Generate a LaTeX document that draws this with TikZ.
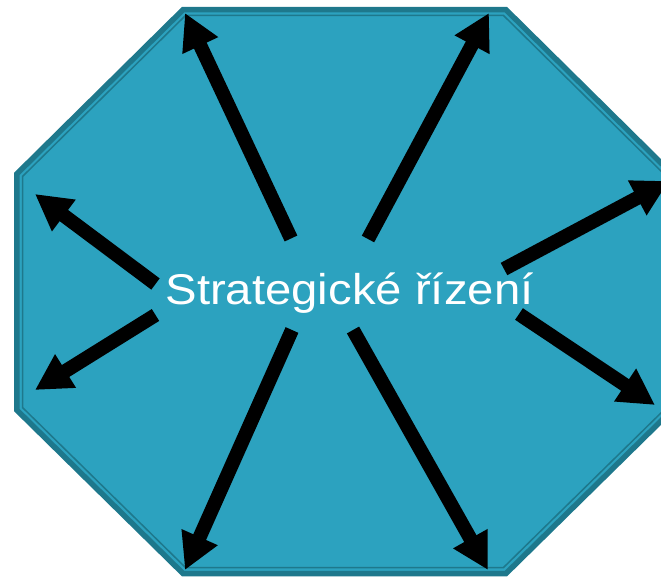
\documentclass[tikz,border=0pt]{standalone}
\usepackage{fontspec}
\setmainfont{Liberation Sans}
\usetikzlibrary{arrows.meta}
\definecolor{octfill}{RGB}{44,162,191}
\definecolor{octline}{RGB}{30,120,140}
\begin{document}
\begin{tikzpicture}[x=1pt,y=-1pt]
      \useasboundingbox (0,0) rectangle (661,577);
      \clip (0,0) rectangle (661,577);

      % octagon with its double rim
      \draw[octline,line width=5.5pt,fill=octfill]
        (183,9.75) -- (506,9.75) -- (672.25,174) -- (672.25,410) -- (506,573.5)
        -- (183,573.5) -- (16.75,410) -- (16.75,174) -- cycle;
      \draw[octline,line width=1.5pt]
        (185.5,15.5) -- (503.5,15.5) -- (666.5,176.5) -- (666.5,407.5) -- (503.5,567.5)
        -- (185.5,567.5) -- (22.5,407.5) -- (22.5,176.5) -- cycle;

      \node[text=white,font=\fontsize{43}{50}\selectfont,anchor=base,xscale=1.1] (title) at (349.5,305) {Strategické řízení};

      \begin{scope}
        \coordinate (tul) at (291,238.5);  \coordinate (hul) at (185,13);
        \coordinate (tur) at (368,239);    \coordinate (hur) at (489,13);
        \coordinate (tlu) at (155.5,284);  \coordinate (hlu) at (35,194);
        \coordinate (tld) at (155.5,315);  \coordinate (hld) at (35,390);
        \coordinate (tru) at (504,269);    \coordinate (hru) at (669,181);
        \coordinate (trd) at (519,314);    \coordinate (hrd) at (655,405);
        \coordinate (tdl) at (292,330);    \coordinate (hdl) at (185,570);
        \coordinate (tdr) at (353,330);    \coordinate (hdr) at (488,570);
      \end{scope}

      \begin{scope}[every edge/.style={draw,line width=14pt,-{Triangle[length=36pt,width=37pt]}}]
        \path (tul) edge (hul);
        \path (tur) edge (hur);
        \path (tlu) edge (hlu);
        \path (tld) edge (hld);
        \path (tru) edge (hru);
        \path (trd) edge (hrd);
        \path (tdl) edge (hdl);
        \path (tdr) edge (hdr);
      \end{scope}

    \end{tikzpicture}
\end{document}
